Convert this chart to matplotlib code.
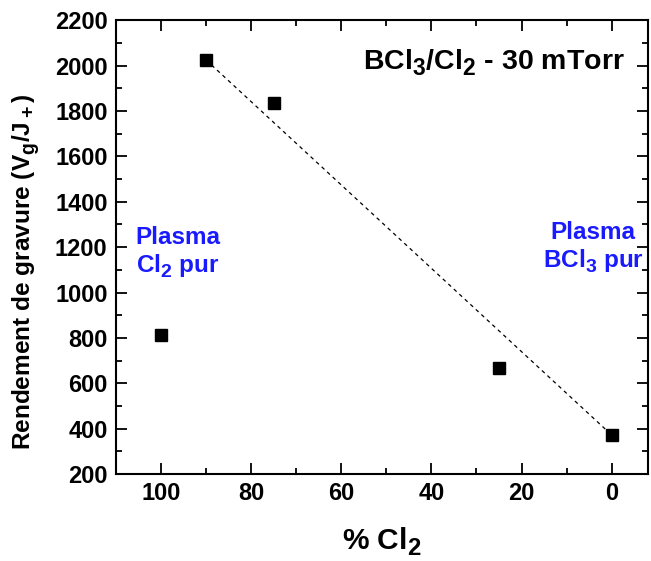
import matplotlib
matplotlib.use("Agg")
import matplotlib.pyplot as plt
from matplotlib.ticker import MultipleLocator
import matplotlib._mathtext as _mt

# Data
pct_cl2 = [100, 90, 75, 25, 0]
rendement = [812, 2025, 1834, 667, 372]
trend_x = [90, 0]
trend_y = [2025, 372]
x_ticks = [100, 80, 60, 40, 20, 0]
y_ticks = [200, 400, 600, 800, 1000, 1200, 1400, 1600, 1800, 2000, 2200]

plt.rcParams['font.family'] = ['Liberation Sans', 'DejaVu Sans']
plt.rcParams['font.weight'] = 'bold'
plt.rcParams['mathtext.fontset'] = 'custom'
plt.rcParams['mathtext.rm'] = 'Liberation Sans:bold'
plt.rcParams['mathtext.it'] = 'Liberation Sans:bold'
plt.rcParams['mathtext.bf'] = 'Liberation Sans:bold'
# larger, lower subscripts (like the reference)
try:
    _mt.SHRINK_FACTOR = 0.8
    _mt.FontConstantsBase.sub1 = 0.42
    _mt.FontConstantsBase.sub2 = 0.45
except Exception:
    pass

fig = plt.figure(figsize=(6.51, 5.61), dpi=100)
ax = fig.add_axes([0.178, 0.155, 0.817, 0.809])

ax.plot(trend_x, trend_y, linestyle=(0, (3, 3)), color='black', lw=0.9, zorder=2)
ax.plot(pct_cl2, rendement, linestyle='none', marker='s', markersize=8,
        color='black', zorder=3)

ax.set_xlim(110, -8)
ax.set_ylim(200, 2200)
ax.set_xticks(x_ticks)
ax.set_yticks(y_ticks)
ax.xaxis.set_minor_locator(MultipleLocator(10))
ax.yaxis.set_minor_locator(MultipleLocator(100))
ax.tick_params(which='both', direction='in', top=True, right=True, width=1.3)
ax.tick_params(which='major', length=8, labelsize=17, pad=6)
ax.tick_params(which='minor', length=4)
for lab in ax.get_xticklabels() + ax.get_yticklabels():
    lab.set_fontweight('bold')
for s in ax.spines.values():
    s.set_linewidth(1.5)

ax.set_xlabel('% Cl$_2$', fontsize=21.5, fontweight='bold', labelpad=14)
ax.set_ylabel('Rendement de gravure (V$_\\mathrm{g}$/J$_+$)', fontsize=17.6,
              fontweight='bold')
ax.yaxis.set_label_coords(-0.138, 0.445)

ax.text(0.957, 0.892, 'BCl$_3$/Cl$_2$ - 30 mTorr', transform=ax.transAxes,
        ha='right', va='baseline', fontsize=20.5, fontweight='bold')
ax.text(0.117, 0.487, 'Plasma\nCl$_2$ pur', transform=ax.transAxes,
        ha='center', va='center', fontsize=17.5, fontweight='bold',
        color='#1a1aff', linespacing=1.2)
ax.text(0.897, 0.498, 'Plasma\nBCl$_3$ pur', transform=ax.transAxes,
        ha='center', va='center', fontsize=17.5, fontweight='bold',
        color='#1a1aff', linespacing=1.2)

fig.savefig('out.png', dpi=100)
